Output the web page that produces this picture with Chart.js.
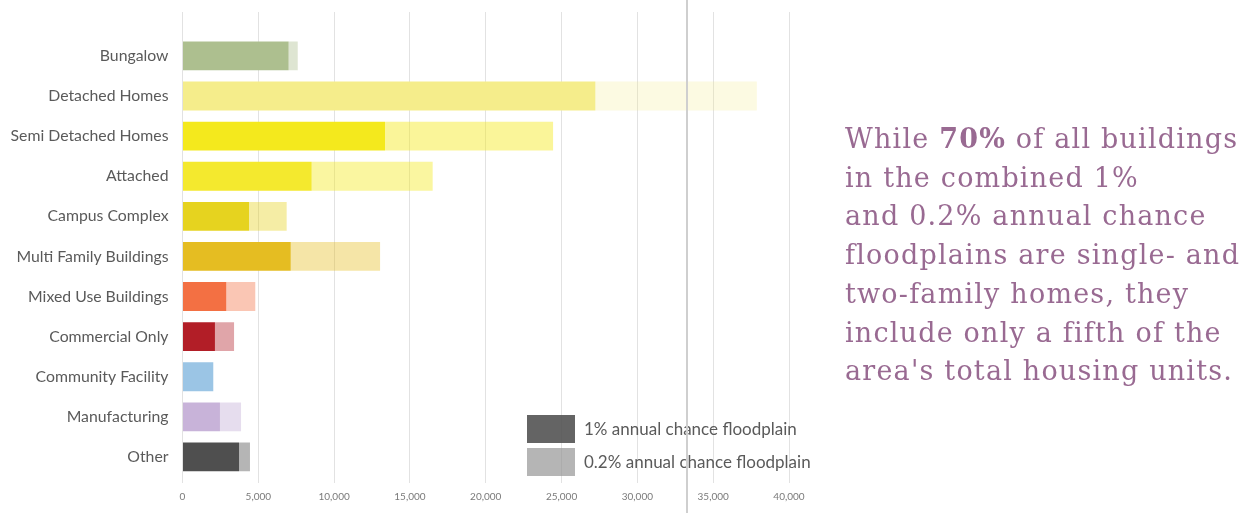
<!DOCTYPE html>
<html>
<head>
<meta charset="utf-8">
<script src="https://cdn.jsdelivr.net/npm/chart.js@4.4.0/dist/chart.umd.min.js"></script>
<style>
  html, body { margin:0; padding:0; background:#fff; }
  body { width:1252px; height:513px; position:relative; overflow:hidden; font-family: Lato, "Open Sans", sans-serif; }
  #wrap { position:absolute; left:0; top:0; width:1252px; height:513px; }
  #sep { position:absolute; left:686px; top:0; width:2px; height:513px; background:#cfcfcf; }
  .leg { position:absolute; left:527px; width:48px; height:28px; }
  .legt { position:absolute; left:584px; font-size:17px; color:#5a5a5a; line-height:20px; white-space:nowrap; }
  #note { position:absolute; left:845px; top:120px; font-family:"DejaVu Serif", serif; font-size:27px; letter-spacing:1.2px; line-height:38.7px; color:#996a92; white-space:nowrap; }
</style>
</head>
<body>
<div id="wrap"><canvas id="c" width="1252" height="513"></canvas></div>
<div class="leg" style="top:415px;background:rgba(79,79,79,0.88);"></div>
<div class="leg" style="top:448px;background:rgba(150,150,150,0.7);"></div>
<div class="legt" style="top:419px;">1% annual chance floodplain</div>
<div class="legt" style="top:452px;">0.2% annual chance floodplain</div>
<div id="note">While <b>70%</b> of all buildings<br>in the combined 1%<br>and 0.2% annual chance<br>floodplains are single- and<br>two-family homes, they<br>include only a fifth of the<br>area's total housing units.</div>
<div id="sep"></div>
<script>
const categories = ["Bungalow","Detached Homes","Semi Detached Homes","Attached","Campus Complex","Multi Family Buildings","Mixed Use Buildings","Commercial Only","Community Facility","Manufacturing","Other"];
const oneAnnual = [7000, 27230, 13360, 8520, 4390, 7140, 2890, 2140, 2030, 2470, 3730];
const pointTwoAnnual = [600, 10650, 11080, 7980, 2480, 5890, 1910, 1260, 0, 1390, 720];
const xTicks = [0, 5000, 10000, 15000, 20000, 25000, 30000, 35000, 40000];
const seriesNames = ["1% annual chance floodplain", "0.2% annual chance floodplain"];

const darkColors = ["#adbf8f","#f5ed8b","#f4e91d","#f4e92e","#e6d31f","#e5bd22","#f37043","#b21e27","#9bc5e5","#c8b3d9","#4f4f4f"];
const lightColors = ["rgba(173,191,143,0.4)","rgba(245,237,139,0.25)","rgba(244,233,29,0.45)","rgba(244,233,29,0.42)","rgba(230,211,31,0.4)","rgba(229,189,34,0.4)","rgba(243,112,67,0.4)","rgba(178,30,39,0.4)","rgba(155,197,229,0.4)","rgba(200,179,217,0.45)","rgba(79,79,79,0.42)"];

const toPts = arr => arr.map((v, i) => ({ x: v, y: i }));

new Chart(document.getElementById('c'), {
  type: 'bar',
  data: {
    datasets: [
      { label: seriesNames[0], data: toPts(oneAnnual), backgroundColor: darkColors, borderWidth: 0 },
      { label: seriesNames[1], data: toPts(pointTwoAnnual), backgroundColor: lightColors, borderWidth: 0 }
    ]
  },
  options: {
    indexAxis: 'y',
    responsive: false,
    animation: false,
    devicePixelRatio: 1,
    categoryPercentage: 0.8,
    barPercentage: 0.9,
    layout: { padding: { top: 12, right: 463, bottom: 0, left: 0 } },
    plugins: { legend: { display: false }, tooltip: { enabled: false } },
    scales: {
      x: {
        type: 'linear',
        stacked: true,
        min: 0, max: 40000,
        afterBuildTicks: s => { s.ticks = xTicks.map(v => ({ value: v })); },
        afterFit: s => { s.height = 30; },
        grid: { color: '#e2e2e2', lineWidth: 1, drawTicks: false },
        border: { display: false },
        ticks: { padding: 8, color: '#7a7a7a', font: { family: 'Lato', size: 10 }, callback: v => v.toLocaleString('en-US') }
      },
      y: {
        type: 'linear',
        stacked: true,
        reverse: true,
        offset: false,
        min: -1.095, max: 10.65,
        afterBuildTicks: s => { s.ticks = categories.map((_, i) => ({ value: i })); },
        afterFit: s => { s.width = 182.5; s.paddingTop = 0; s.paddingBottom = 0; },
        grid: { display: false, drawTicks: false, offset: false },
        border: { display: false },
        ticks: { padding: 14, color: '#5a5a5a', font: { family: 'Lato', size: 15.8 }, callback: v => categories[v] }
      }
    }
  }
});
</script>
</body>
</html>
